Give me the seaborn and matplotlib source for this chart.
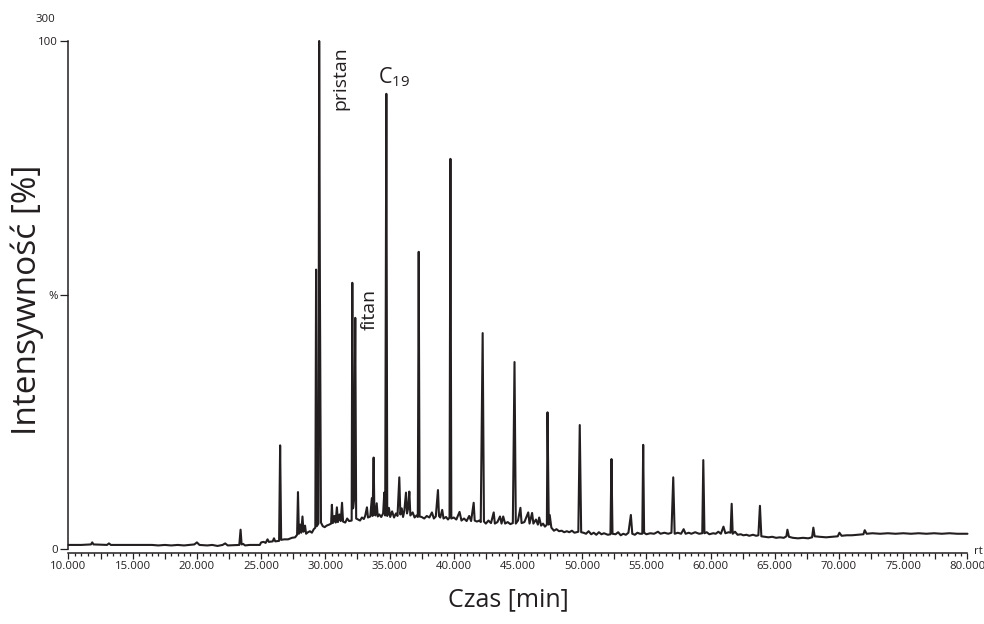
import numpy as np
import pandas as pd
import matplotlib
matplotlib.use("Agg")
import matplotlib.pyplot as plt
import seaborn as sns

# ---- data (time [min], intensity [%]) ----
time = [
    10.00, 11.00, 11.75, 11.85, 11.95, 13.00, 13.15, 13.30, 15.00, 16.50,
    17.00, 17.50, 18.00, 18.50, 19.00, 19.80, 20.00, 20.20, 20.80, 21.20,
    21.60, 22.00, 22.20, 22.40, 23.30, 23.40, 23.48, 23.60, 23.75, 24.10,
    24.90, 25.00, 25.20, 25.35, 25.50, 25.60, 25.90, 26.00, 26.10, 26.40,
    26.48, 26.56, 26.80, 27.10, 27.40, 27.65, 27.80, 27.87, 27.94, 28.05,
    28.12, 28.22, 28.30, 28.42, 28.50, 28.65, 28.80, 28.95, 29.10, 29.22,
    29.28, 29.34, 29.46, 29.52, 29.58, 29.66, 29.80, 29.95, 30.10, 30.30,
    30.45, 30.51, 30.58, 30.70, 30.80, 30.90, 30.98, 31.10, 31.20, 31.30,
    31.38, 31.55, 31.70, 31.85, 32.05, 32.10, 32.16, 32.24, 32.33, 32.40,
    32.55, 32.70, 32.85, 33.00, 33.10, 33.24, 33.32, 33.50, 33.62, 33.68,
    33.76, 33.82, 33.90, 34.00, 34.08, 34.20, 34.35, 34.50, 34.59, 34.66,
    34.75, 34.82, 34.95, 35.05, 35.20, 35.35, 35.50, 35.62, 35.76, 35.84,
    35.95, 36.05, 36.15, 36.28, 36.36, 36.45, 36.54, 36.62, 36.80, 36.95,
    37.10, 37.20, 37.27, 37.34, 37.50, 37.70, 37.90, 38.10, 38.30, 38.45,
    38.60, 38.77, 38.85, 38.95, 39.10, 39.20, 39.40, 39.55, 39.67, 39.74,
    39.81, 40.00, 40.20, 40.45, 40.60, 40.80, 41.00, 41.20, 41.35, 41.55,
    41.63, 41.80, 42.00, 42.10, 42.25, 42.35, 42.50, 42.70, 42.90, 43.11,
    43.20, 43.40, 43.60, 43.72, 43.85, 44.00, 44.20, 44.40, 44.60, 44.73,
    44.83, 45.00, 45.19, 45.28, 45.50, 45.80, 45.90, 46.10, 46.20, 46.40,
    46.55, 46.65, 46.80, 46.95, 47.10, 47.25, 47.30, 47.40, 47.47, 47.60,
    47.80, 48.00, 48.20, 48.40, 48.60, 48.80, 49.00, 49.20, 49.40, 49.70,
    49.81, 49.92, 50.10, 50.30, 50.50, 50.70, 50.90, 51.10, 51.30, 51.50,
    51.70, 52.00, 52.20, 52.28, 52.36, 52.60, 52.80, 53.00, 53.20, 53.40,
    53.60, 53.79, 53.90, 54.10, 54.30, 54.50, 54.68, 54.75, 54.82, 55.00,
    55.30, 55.60, 55.90, 56.10, 56.40, 56.70, 56.95, 57.09, 57.20, 57.45,
    57.70, 57.90, 58.05, 58.30, 58.50, 58.80, 59.10, 59.35, 59.43, 59.52,
    59.70, 59.90, 60.20, 60.40, 60.60, 60.80, 61.00, 61.15, 61.40, 61.55,
    61.64, 61.72, 61.90, 62.10, 62.35, 62.55, 62.80, 63.00, 63.30, 63.55,
    63.72, 63.84, 63.95, 64.20, 64.50, 64.80, 65.10, 65.40, 65.70, 65.90,
    65.98, 66.10, 66.40, 66.80, 67.20, 67.60, 67.90, 68.00, 68.10, 68.50,
    69.00, 69.50, 69.90, 70.03, 70.20, 70.60, 71.00, 71.50, 71.90, 72.00,
    72.15, 72.60, 73.20, 73.80, 74.40, 75.00, 75.60, 76.20, 76.80, 77.40,
    78.00, 78.60, 79.20, 80.00,
]
intensity = [
    0.8, 0.8, 0.9, 1.3, 0.9, 0.8, 1.1, 0.8, 0.8, 0.8,
    0.7, 0.8, 0.7, 0.8, 0.7, 0.9, 1.3, 0.8, 0.7, 0.8,
    0.6, 0.8, 1.1, 0.7, 0.8, 3.8, 0.9, 1.0, 0.7, 0.8,
    0.8, 1.3, 1.4, 1.2, 1.9, 1.4, 1.5, 2.1, 1.5, 1.6,
    20.4, 1.8, 1.9, 1.9, 2.2, 2.3, 2.8, 11.2, 3.0, 4.8,
    3.2, 6.4, 3.4, 4.6, 3.0, 3.3, 3.5, 3.2, 3.9, 4.2,
    55.0, 4.5, 5.0, 100.0, 50.0, 5.2, 4.5, 4.3, 4.6, 4.8,
    5.0, 8.7, 5.1, 6.5, 5.2, 8.2, 5.3, 6.8, 5.5, 9.1,
    5.4, 5.2, 6.0, 5.5, 5.6, 52.4, 8.0, 10.0, 45.5, 6.0,
    5.8, 5.6, 6.2, 5.9, 6.5, 8.2, 6.2, 6.4, 10.0, 6.5,
    18.0, 7.0, 6.6, 9.0, 6.4, 6.8, 6.3, 7.0, 11.1, 6.6,
    89.6, 6.5, 8.1, 6.3, 7.4, 6.2, 7.0, 6.5, 14.1, 6.8,
    8.0, 6.3, 7.5, 11.1, 7.0, 8.0, 11.3, 6.6, 7.2, 6.2,
    6.6, 6.3, 58.5, 6.4, 6.3, 6.0, 6.5, 6.2, 7.2, 6.0,
    6.4, 11.6, 6.5, 6.2, 7.7, 6.0, 6.3, 5.8, 6.2, 76.8,
    6.0, 6.2, 5.8, 7.3, 5.6, 6.0, 5.5, 6.5, 5.5, 9.1,
    5.6, 5.4, 5.6, 5.3, 42.5, 5.4, 5.0, 5.6, 5.1, 7.2,
    5.0, 5.3, 6.4, 5.0, 6.4, 5.0, 5.3, 4.9, 5.1, 36.8,
    5.0, 5.6, 8.1, 5.1, 5.3, 7.2, 5.0, 7.1, 5.0, 5.8,
    4.8, 6.2, 4.6, 5.0, 4.4, 4.8, 26.9, 4.8, 6.7, 4.2,
    3.6, 3.9, 3.5, 3.6, 3.3, 3.5, 3.3, 3.6, 3.2, 3.4,
    24.4, 3.3, 3.2, 3.0, 3.5, 2.9, 3.2, 2.8, 3.3, 2.9,
    3.1, 2.8, 2.9, 17.7, 3.0, 2.9, 3.3, 2.7, 3.0, 2.8,
    3.2, 6.7, 3.0, 2.8, 3.2, 3.0, 3.0, 20.5, 3.2, 2.9,
    3.1, 3.0, 3.4, 3.0, 3.2, 3.0, 3.2, 14.1, 3.0, 3.2,
    3.0, 3.9, 3.0, 3.2, 3.0, 3.3, 3.0, 3.1, 17.5, 3.1,
    3.3, 2.9, 3.1, 3.0, 3.4, 3.0, 4.4, 3.1, 3.3, 3.2,
    8.9, 3.0, 3.4, 2.8, 2.9, 2.7, 2.8, 2.6, 2.8, 2.6,
    2.7, 8.5, 2.5, 2.4, 2.3, 2.4, 2.2, 2.3, 2.2, 2.5,
    3.8, 2.4, 2.2, 2.1, 2.2, 2.1, 2.3, 4.2, 2.5, 2.4,
    2.3, 2.4, 2.5, 3.2, 2.6, 2.7, 2.7, 2.8, 2.9, 3.7,
    3.0, 3.1, 3.0, 3.1, 3.0, 3.1, 3.0, 3.1, 3.0, 3.1,
    3.0, 3.1, 3.0, 3.0,
]

x_tick_pos = [10, 12.5, 15, 17.5, 20, 22.5, 25, 27.5, 30, 32.5, 35, 37.5, 40,
              42.5, 45, 47.5, 50, 52.5, 55, 57.5, 60, 62.5, 65, 67.5, 70,
              72.5, 75, 77.5, 80]
x_tick_labels = ["10.000", "", "15.000", "", "20.000", "", "25.000", "",
                 "30.000", "", "35.000", "", "40.000", "", "45.000", "",
                 "50.000", "", "55.000", "", "60.000", "", "65.000", "",
                 "70.000", "", "75.000", "", "80.000"]
y_tick_pos = [0, 50, 100]
y_tick_labels = ["0", "%", "100"]

peak_names = ["pristan", "fitan"]
peak_name_pos = [(31.15, 92.7), (33.42, 47.2)]

# ---- style ----
sns.set_style("ticks")
plt.rcParams["font.family"] = ["Open Sans", "DejaVu Sans"]
plt.rcParams["mathtext.fontset"] = "custom"
plt.rcParams["mathtext.rm"] = "Open Sans"
plt.rcParams["mathtext.it"] = "Open Sans:italic"

INK = "#231f20"

fig = plt.figure(figsize=(9.84, 6.24), dpi=100)
ax = fig.add_axes([0.0696, 0.1202, 0.9136, 0.8141])

df = pd.DataFrame({"time": time, "intensity": intensity})
sns.lineplot(data=df, x="time", y="intensity", sort=False, estimator=None,
             color=INK, lw=1.5, ax=ax)
for ln in ax.lines:
    ln.set_clip_on(False)

ax.set_xlim(10, 80)
ax.set_ylim(0, 100)
ax.set_xlabel("")
ax.set_ylabel("")

ax.set_xticks(x_tick_pos, labels=x_tick_labels)
ax.xaxis.set_minor_locator(matplotlib.ticker.MultipleLocator(0.5))
ax.set_yticks(y_tick_pos, labels=y_tick_labels)

ax.tick_params(axis="x", which="major", direction="out", length=4.5, width=0.9,
               color=INK, labelsize=8.2, pad=1.5, labelcolor=INK)
ax.tick_params(axis="x", which="minor", direction="out", length=2.4, width=0.9,
               color=INK)
ax.tick_params(axis="y", which="major", direction="out", length=6, width=0.9,
               color=INK, labelsize=8.2, pad=1.5, labelcolor=INK)

for s in ["top", "right"]:
    ax.spines[s].set_visible(False)
ax.spines["left"].set_color(INK)
ax.spines["bottom"].set_color(INK)
ax.spines["left"].set_linewidth(1.1)
ax.spines["bottom"].set_linewidth(1.1)
ax.spines["bottom"].set_position(("outward", 3))

# labels
for name, (tx, ty) in zip(peak_names, peak_name_pos):
    ax.text(tx, ty, name, rotation=90, ha="center", va="center",
            fontsize=14, color=INK)
ax.text(34.12, 91.7, r"C$_{\mathrm{19}}$", ha="left", va="baseline",
        fontsize=15.5, color=INK)

fig.text(45 / 984, 1 - 19 / 624, "300", ha="center", va="center",
         fontsize=8.2, color=INK)
fig.text(978 / 984, 1 - 551 / 624, "rt", ha="center", va="center",
         fontsize=8.2, color=INK)
fig.text(27 / 984, 1 - 300 / 624, "Intensywność [%]", rotation=90,
         ha="center", va="center", fontsize=24, color=INK)
fig.text(508 / 984, 1 - 600 / 624, "Czas [min]", ha="center", va="center",
         fontsize=18, color=INK)

fig.savefig("out.png", dpi=100)
